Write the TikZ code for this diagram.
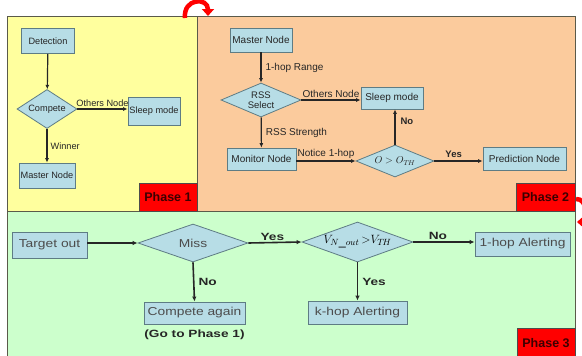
\documentclass[tikz,border=0pt]{standalone}
\usepackage{fontspec}
\setmainfont{Liberation Sans}
\newfontfamily\widefont[FakeStretch=1.2]{Liberation Sans}
\newfontfamily\widerfont[FakeStretch=1.3]{Liberation Sans}
\usetikzlibrary{shapes.geometric,arrows.meta}
\definecolor{pyellow}{HTML}{FFFF9E}
\definecolor{ppeach}{HTML}{FBCB9D}
\definecolor{pgreen}{HTML}{CCFFCC}
\definecolor{nodefill}{HTML}{B7DDE6}
\definecolor{nodeline}{HTML}{5E7C84}
\definecolor{phasetext}{HTML}{3C0000}
\definecolor{panelline}{HTML}{5A5A4A}
\begin{document}
\begin{tikzpicture}[x=1pt,y=-1pt,
  box/.style={draw=nodeline, fill=nodefill, line width=0.8pt, inner sep=0pt, align=center},
  dia/.style={box, diamond},
  tone/.style={font=\fontsize{9.2}{10}\selectfont, text=black!85},
  ttwo/.style={font=\fontsize{10}{11}\selectfont, text=black!85},
  tthree/.style={font=\widefont\fontsize{11.5}{13}\selectfont, text=black!70},
  lbtwo/.style={font=\bfseries\fontsize{9.5}{11}\selectfont, text=black!85},
  lbthree/.style={font=\widerfont\bfseries\fontsize{10.5}{12}\selectfont, text=black!85},
  arr/.style={line width=1.2pt, draw=black!85, -{Latex[length=4.5pt,width=4pt]}},
  arrthree/.style={line width=1.6pt, draw=black!85, -{Latex[length=5pt,width=4.5pt]}},
  panel/.style={draw=panelline, line width=0.8pt},
  phase/.style={draw=black!70, fill=red, line width=0.8pt, inner sep=0pt, text=phasetext, font=\bfseries\fontsize{12.5}{14}\selectfont},
  redturn/.style={draw=red, line width=4.5pt, -{Triangle[length=7pt,width=12pt]}}
]
\useasboundingbox (0,0) rectangle (582,356);
\fill[white] (0,0) rectangle (582,356);

% panels
\filldraw[panel, fill=pyellow] (7,16) rectangle (197,211);
\filldraw[panel, fill=ppeach] (197,16) rectangle (575,211);
\filldraw[panel, fill=pgreen] (7,211) rectangle (575,360);

% phase labels
\node[phase, minimum width=58pt, minimum height=28pt] (ph1) at (168,197) {Phase 1};
\node[phase, minimum width=59pt, minimum height=28pt] (ph2) at (545.5,197) {Phase 2};
\node[phase, minimum width=58pt, minimum height=30pt] (ph3) at (546,343) {Phase 3};

% red curved arrows
\draw[redturn] (185,18) .. controls (183,-2) and (208,-3) .. (208,16);
\draw[redturn] (576,199) .. controls (588,198) and (588,222) .. (577,222);

% Phase 1
\node[box, tone, minimum width=53pt, minimum height=25pt] (det) at (48,41) {Detection};
\node[dia, tone, aspect=1.6, minimum width=60pt, minimum height=39pt] (comp) at (47,109) {Compete};
\node[box, tone, minimum width=52pt, minimum height=28pt] (sleep1) at (154,111) {Sleep mode};
\node[box, tone, minimum width=56pt, minimum height=25pt] (master1) at (47,175.5) {Master Node};
\draw[arr] (det) -- (comp);
\draw[arr] (comp.east) -- node[tone, above, inner sep=1.5pt] (l1) {Others Node} (sleep1.west |- comp.east);
\draw[arr] (comp) -- node[tone, right, inner sep=3pt] (l2) {Winner} (master1);

% Phase 2
\node[box, ttwo, minimum width=62pt, minimum height=24pt] (master2) at (261,40) {Master Node};
\node[dia, ttwo, aspect=2.3, minimum width=80pt, minimum height=34pt, font=\fontsize{9.5}{10.5}\selectfont] (rss) at (261,100) {RSS\\Select};
\node[box, ttwo, minimum width=62pt, minimum height=22pt] (sleep2) at (392,98) {Sleep mode};
\node[box, ttwo, minimum width=69pt, minimum height=22pt] (mon) at (261.5,159) {Monitor Node};
\node[dia, ttwo, aspect=2.5, minimum width=78pt, minimum height=32pt] (oth) at (395,161) {$O > O_{T\!H}$};
\node[box, ttwo, minimum width=83pt, minimum height=23pt] (pred) at (524.5,158.5) {Prediction Node};
\draw[arr] (master2) -- node[ttwo, right, inner sep=4pt] (l3) {1-hop Range} (rss);
\draw[arr] (rss.east) -- node[ttwo, above, inner sep=1.5pt] (l4) {Others Node} (sleep2.west |- rss.east);
\draw[arr] (rss) -- node[ttwo, right, inner sep=4pt] (l5) {RSS Strength} (mon);
\draw[arr] (mon.east |- oth.west) -- node[ttwo, above, inner sep=1.5pt] (l6) {Notice 1-hop} (oth.west);
\draw[arr] (oth.north) -- node[lbtwo, right, pos=0.65, inner sep=5pt] (l7) {No} (oth.north |- sleep2.south);
\draw[arr] (oth.east) -- node[lbtwo, above, pos=0.4, inner sep=2.5pt] (l8) {Yes} (pred.west |- oth.east);

% Phase 3
\node[box, tthree, minimum width=75pt, minimum height=26pt] (tgt) at (49.5,245) {Target out};
\node[dia, tthree, aspect=2.8, minimum width=110pt, minimum height=38pt] (miss) at (193,243) {Miss};
\node[box, tthree, minimum width=101pt, minimum height=22pt] (again) at (194.5,313) {Compete again};
\node[lbthree, anchor=north] (go) at (194.5,326) {(Go to Phase 1)};
\node[dia, aspect=2.8, minimum width=111pt, minimum height=40pt, font=\fontsize{12.5}{14}\selectfont] (vn) at (357.5,242) {$V_{N\_out}\,{>}V_{T\!H}$};
\node[box, tthree, minimum width=95pt, minimum height=24pt] (one) at (522.5,244) {1-hop Alerting};
\node[box, tthree, minimum width=99pt, minimum height=23pt] (khop) at (357.5,312.5) {k-hop Alerting};
\draw[arrthree] (tgt.east |- miss.west) -- (miss.west);
\draw[arrthree] (miss.east) -- node[lbthree, above, pos=0.45, inner sep=1.5pt] (l9) {Yes} (vn.west);
\draw[arrthree] (miss.south) -- node[lbthree, right, inner sep=4pt] (l10) {No} (again.north);
\draw[arrthree] (vn.east) -- node[lbthree, above, pos=0.4, inner sep=1.5pt] (l11) {No} (one.west |- vn.east);
\draw[arrthree] (vn.south) -- node[lbthree, right, inner sep=4pt] (l12) {Yes} (khop.north);
\end{tikzpicture}
\end{document}
